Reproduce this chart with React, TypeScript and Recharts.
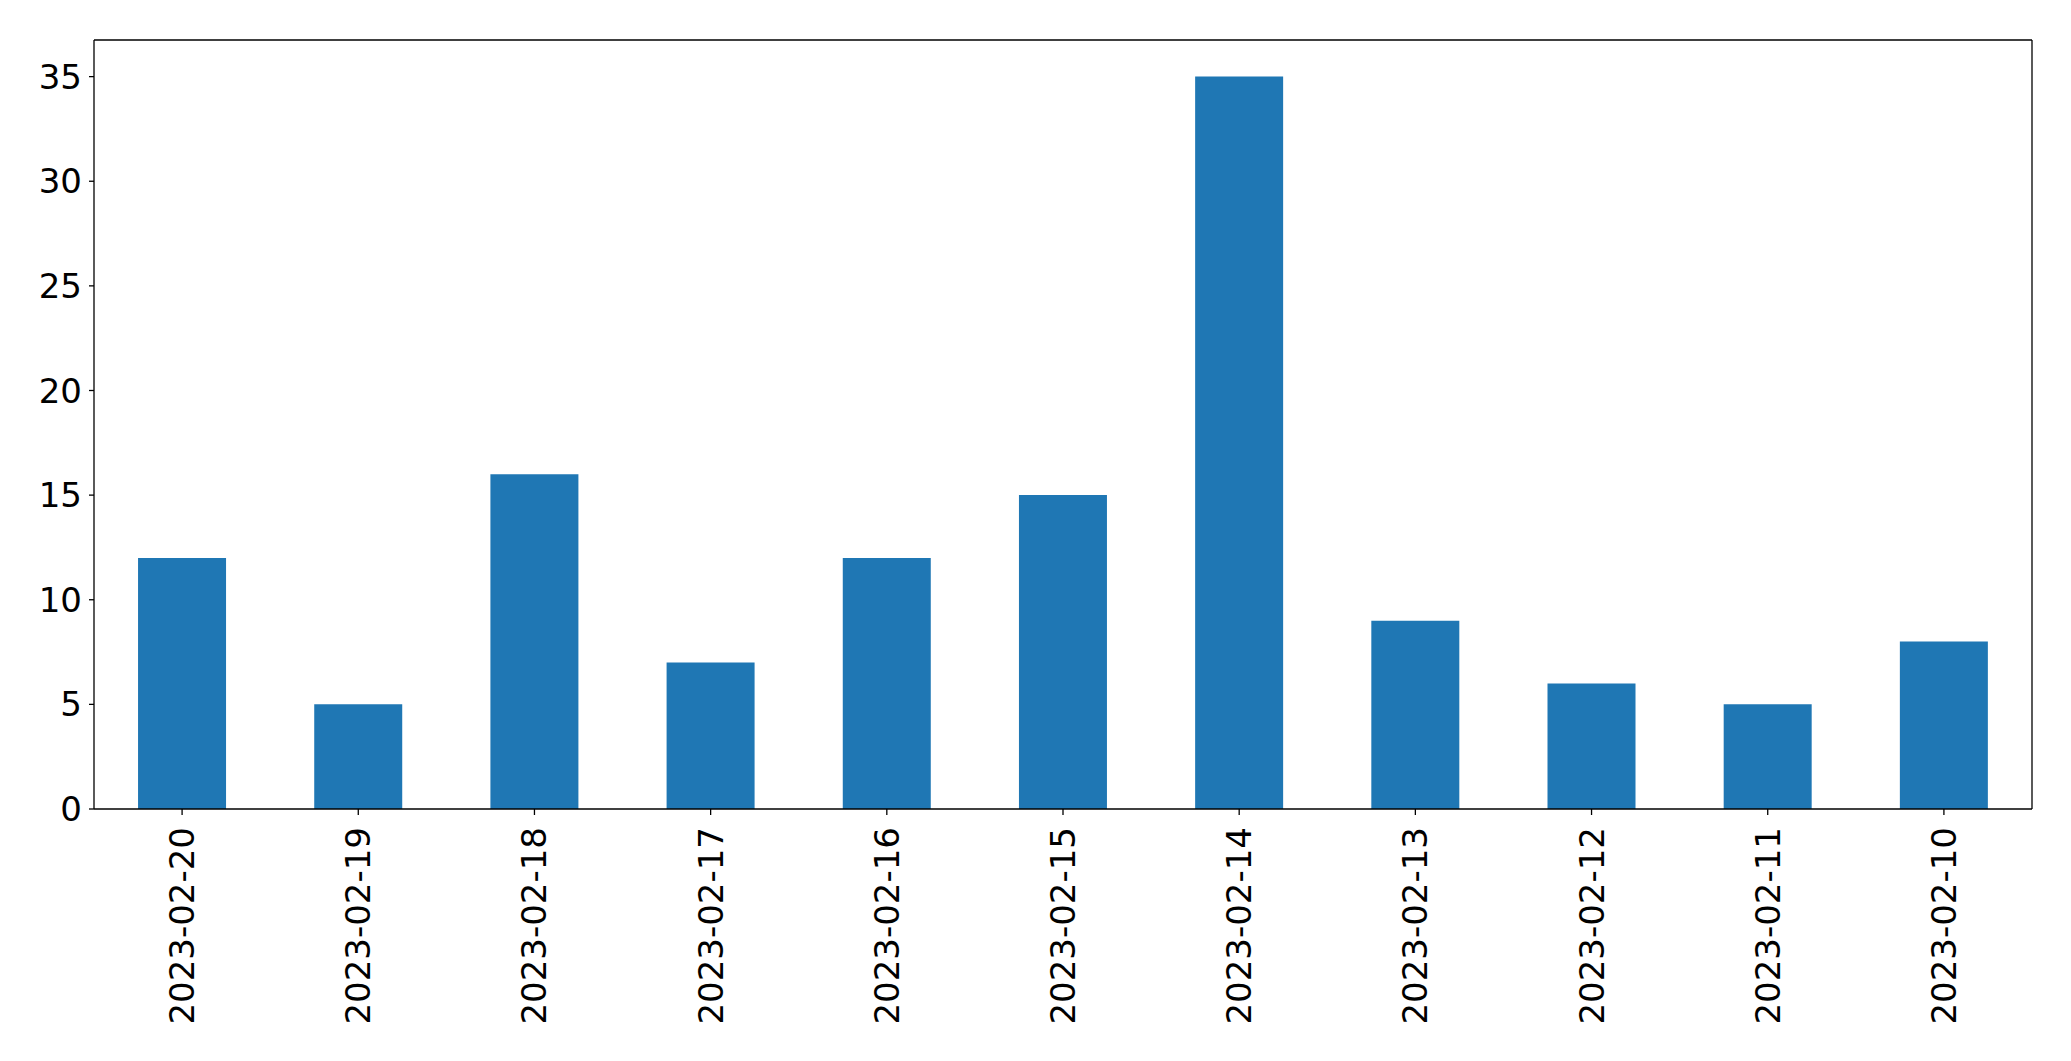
import React from 'react';
import { BarChart, Bar, XAxis, YAxis } from 'recharts';

const dates = [
  '2023-02-20', '2023-02-19', '2023-02-18', '2023-02-17', '2023-02-16', '2023-02-15',
  '2023-02-14', '2023-02-13', '2023-02-12', '2023-02-11', '2023-02-10',
];
const counts = [12, 5, 16, 7, 12, 15, 35, 9, 6, 5, 8];
const yTicks = [0, 5, 10, 15, 20, 25, 30, 35];

const data = dates.map((d, i) => ({ date: d, count: counts[i] }));

const FONT = '"DejaVu Sans", sans-serif';
const FONT_SIZE = 34;
const AXIS = { stroke: '#000', strokeWidth: 1.3 };

function DateTick(props: any) {
  const { x, y, payload } = props;
  return (
    <text
      x={x}
      y={y}
      transform={`rotate(-90, ${x}, ${y})`}
      textAnchor="end"
      dominantBaseline="central"
      fontFamily={FONT}
      fontSize={FONT_SIZE}
      fill="#000"
    >
      {payload.value}
    </text>
  );
}

export default function App() {
  return (
    <div style={{ position: 'absolute', left: 0, top: 0, background: '#fff' }}>
      <BarChart
        width={2071}
        height={1061}
        data={data}
        margin={{ top: 39, right: 38, left: 0, bottom: 0 }}
        barCategoryGap="25%"
      >
        <XAxis
          dataKey="date"
          height={252}
          interval={0}
          tickSize={6}
          tickMargin={12}
          axisLine={AXIS}
          tickLine={AXIS}
          tick={<DateTick />}
        />
        <XAxis
          xAxisId="top"
          dataKey="date"
          orientation="top"
          height={1}
          tick={false}
          tickLine={false}
          axisLine={AXIS}
        />
        <YAxis
          width={94}
          domain={[0, 36.75]}
          ticks={yTicks}
          tickSize={5}
          tickMargin={7}
          axisLine={AXIS}
          tickLine={AXIS}
          tick={{ fill: '#000', fontSize: FONT_SIZE, fontFamily: FONT }}
        />
        <YAxis
          yAxisId="right"
          orientation="right"
          width={1}
          domain={[0, 36.75]}
          tick={false}
          tickLine={false}
          axisLine={AXIS}
        />
        <Bar dataKey="count" fill="#1f77b4" isAnimationActive={false} />
        <Bar dataKey="count" xAxisId="top" yAxisId="right" fill="none" isAnimationActive={false} legendType="none" />
      </BarChart>
    </div>
  );
}
